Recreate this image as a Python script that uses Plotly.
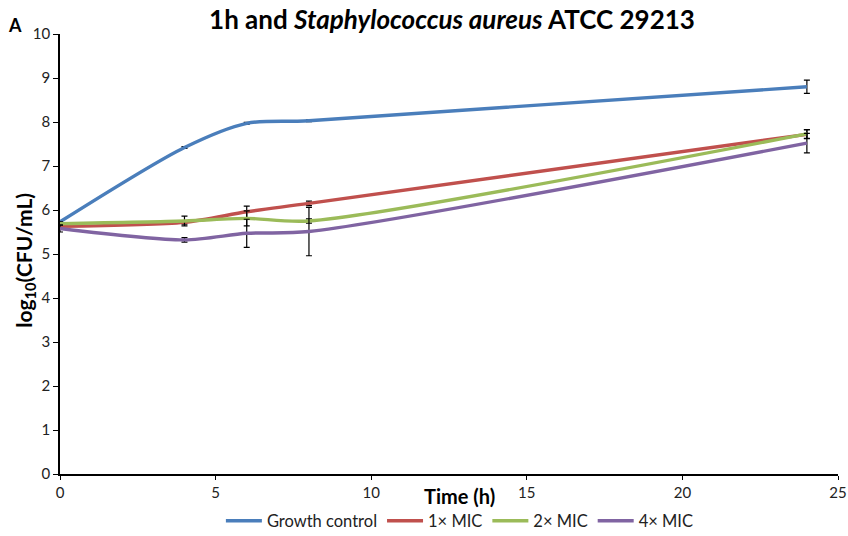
import plotly.graph_objects as go

time_h = [0, 4, 6, 8, 24]
growth = [5.73, 7.42, 7.97, 8.03, 8.80]
growth_err = [0.03, 0.02, 0.02, 0.02, 0.15]
mic1 = [5.63, 5.72, 5.96, 6.15, 7.72]
mic1_err = [0.04, 0.04, 0.13, 0.05, 0.10]
mic2 = [5.69, 5.75, 5.81, 5.75, 7.73]
mic2_err = [0.04, 0.11, 0.17, 0.05, 0.10]
mic4 = [5.58, 5.32, 5.47, 5.51, 7.52]
mic4_err = [0.08, 0.05, 0.32, 0.55, 0.22]

names = ["Growth control", "1× MIC", "2× MIC", "4× MIC"]
series = [growth, mic1, mic2, mic4]
errors = [growth_err, mic1_err, mic2_err, mic4_err]
colors = ["#4A7EBB", "#C0504D", "#9BBB59", "#8064A2"]

FONT = "Lato"

fig = go.Figure()
for n, s, e, c in zip(names, series, errors, colors):
    fig.add_trace(go.Scatter(
        x=time_h, y=s, name=n, mode="lines",
        line=dict(color=c, width=3.4, shape="spline", smoothing=0.8),
        error_y=dict(type="data", array=e, visible=True, color="black",
                     thickness=1.2, width=3),
    ))

fig.update_layout(
    width=848, height=536,
    margin=dict(l=60, r=10, t=34, b=62, autoexpand=False),
    paper_bgcolor="white", plot_bgcolor="white",
    font=dict(family=FONT, size=15, color="#222"),
    title=dict(text="<b>1h and <i>Staphylococcus aureus</i> ATCC 29213</b>",
               x=0.533, xanchor="center", y=0.962, yanchor="middle",
               font=dict(family=FONT, size=26, color="black")),
    showlegend=True,
    legend=dict(orientation="h", x=0.514, xanchor="center", y=-0.107,
                yanchor="middle", font=dict(family=FONT, size=16.5, color="#222"),
                itemwidth=36, tracegroupgap=0),
    xaxis=dict(range=[0, 25], dtick=5, showgrid=False, zeroline=False,
               showline=True, linecolor="black", linewidth=1.5,
               ticks="outside", ticklen=4, tickcolor="black",
               tickfont=dict(size=15)),
    yaxis=dict(range=[0, 10], dtick=1, showgrid=False, zeroline=False,
               showline=True, linecolor="black", linewidth=1.5,
               ticks="outside", ticklen=5, tickcolor="black",
               tickfont=dict(size=15)),
    annotations=[
        dict(text="<b>log<sub>10</sub>(CFU/mL)</b>", xref="paper", yref="paper",
             x=-0.046, y=0.485, xanchor="center", yanchor="middle",
             textangle=-90, showarrow=False,
             font=dict(family=FONT, size=21, color="black")),
        dict(text="<b>Time (h)</b>", xref="paper", yref="paper",
             x=0.513, y=-0.05, xanchor="center", yanchor="middle",
             showarrow=False, font=dict(family=FONT, size=20, color="black")),
        dict(text="<b>A</b>", xref="paper", yref="paper",
             x=-0.058, y=1.02, xanchor="center", yanchor="middle",
             showarrow=False, font=dict(family=FONT, size=18, color="black")),
    ],
)

fig.write_html("out.html")
